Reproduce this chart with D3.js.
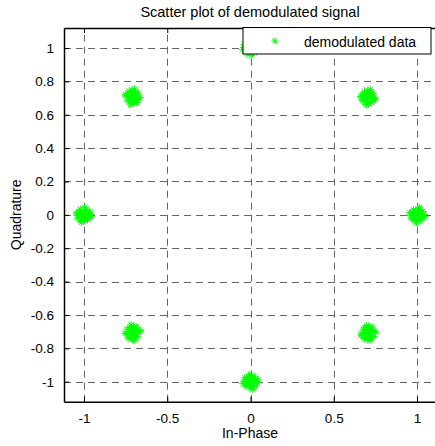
<!DOCTYPE html>
<html>
<head>
<meta charset="utf-8">
<script src="https://cdn.jsdelivr.net/npm/d3@7"></script>
<style>
  body { margin: 0; background: #fff; }
  text { font-family: "Liberation Sans", Arial, sans-serif; fill: #000; }
</style>
</head>
<body>
<main></main>
<script>
// データ (8-PSK 復調信号, 各クラスタの点を画像から読み取り)
const inPhase = [
  // (1, 0)
  1.000,1.013,0.985,1.026,0.978,1.008,0.994,1.031,0.970,1.018,0.988,1.041,0.961,1.004,0.979,1.022,1.035,0.966,1.010,0.992,1.046,0.956,0.997,1.014,
  // (0.707, 0.707)
  0.711,0.700,0.718,0.713,0.694,0.729,0.680,0.689,0.725,0.738,0.673,0.710,0.705,0.746,0.736,0.674,0.728,0.684,0.694,0.713,0.697,0.719,0.662,0.751,
  // (0, 1)
  0.000,-0.013,0.015,-0.026,0.022,-0.008,0.006,-0.031,0.030,-0.018,0.012,-0.041,0.039,-0.004,0.021,-0.022,-0.035,0.034,-0.010,0.008,-0.046,0.044,0.003,-0.014,
  // (-0.707, 0.707)
  -0.711,-0.700,-0.718,-0.713,-0.694,-0.729,-0.680,-0.689,-0.725,-0.738,-0.673,-0.710,-0.705,-0.746,-0.736,-0.674,-0.728,-0.684,-0.694,-0.713,-0.697,-0.719,-0.662,-0.751,
  // (-1, 0)
  -1.000,-1.013,-0.985,-1.026,-0.978,-1.008,-0.994,-1.031,-0.970,-1.018,-0.988,-1.041,-0.961,-1.004,-0.979,-1.022,-1.035,-0.966,-1.010,-0.992,-1.046,-0.956,-0.997,-1.014,
  // (-0.707, -0.707)
  -0.703,-0.714,-0.696,-0.701,-0.720,-0.685,-0.734,-0.725,-0.689,-0.676,-0.741,-0.704,-0.709,-0.668,-0.678,-0.740,-0.686,-0.730,-0.720,-0.701,-0.717,-0.695,-0.752,-0.663,
  // (0, -1)
  0.000,0.013,-0.015,0.026,-0.022,0.008,-0.006,0.031,-0.030,0.018,-0.012,0.041,-0.039,0.004,-0.021,0.022,0.035,-0.034,0.010,-0.008,0.046,-0.044,-0.003,0.014,
  // (0.707, -0.707)
  0.703,0.714,0.696,0.701,0.720,0.685,0.734,0.725,0.689,0.676,0.741,0.704,0.709,0.668,0.678,0.740,0.686,0.730,0.720,0.701,0.717,0.695,0.752,0.663
];
const quadrature = [
  0.004,-0.007,0.011,0.006,-0.013,0.022,-0.027,-0.018,0.018,0.031,-0.034,0.003,-0.002,0.039,0.029,-0.033,0.021,-0.023,-0.013,0.006,-0.010,0.012,-0.045,0.044,
  0.707,0.694,0.722,0.681,0.729,0.699,0.713,0.676,0.737,0.689,0.719,0.666,0.746,0.703,0.728,0.685,0.672,0.741,0.697,0.715,0.661,0.751,0.710,0.693,
  1.004,0.993,1.011,1.006,0.987,1.022,0.973,0.982,1.018,1.031,0.966,1.003,0.998,1.039,1.029,0.967,1.021,0.977,0.987,1.006,0.990,1.012,0.955,1.044,
  0.707,0.720,0.692,0.733,0.685,0.715,0.701,0.738,0.677,0.725,0.695,0.748,0.668,0.711,0.686,0.729,0.742,0.673,0.717,0.699,0.753,0.663,0.704,0.721,
  -0.004,0.007,-0.011,-0.006,0.013,-0.022,0.027,0.018,-0.018,-0.031,0.034,-0.003,0.002,-0.039,-0.029,0.033,-0.021,0.023,0.013,-0.006,0.010,-0.012,0.045,-0.044,
  -0.707,-0.694,-0.722,-0.681,-0.729,-0.699,-0.713,-0.676,-0.737,-0.689,-0.719,-0.666,-0.746,-0.703,-0.728,-0.685,-0.672,-0.741,-0.697,-0.715,-0.661,-0.751,-0.710,-0.693,
  -1.004,-0.993,-1.011,-1.006,-0.987,-1.022,-0.973,-0.982,-1.018,-1.031,-0.966,-1.003,-0.998,-1.039,-1.029,-0.967,-1.021,-0.977,-0.987,-1.006,-0.990,-1.012,-0.955,-1.044,
  -0.707,-0.720,-0.692,-0.733,-0.685,-0.715,-0.701,-0.738,-0.677,-0.725,-0.695,-0.748,-0.668,-0.711,-0.686,-0.729,-0.742,-0.673,-0.717,-0.699,-0.753,-0.663,-0.704,-0.721
];
const xTicks = [-1, -0.5, 0, 0.5, 1];
const yTicks = [-1, -0.8, -0.6, -0.4, -0.2, 0, 0.2, 0.4, 0.6, 0.8, 1];
const legendLabel = "demodulated data";

const width = 435, height = 446;
const mLeft = 64, mRight = 437, mTop = 28, mBottom = 401.7;

const svg = d3.select("main").append("svg")
    .attr("width", width)
    .attr("height", height);

const x = d3.scaleLinear().domain([-1.12, 1.12]).range([mLeft, mRight]);
const y = d3.scaleLinear().domain([-1.12, 1.12]).range([mBottom, mTop]);

const fmt = v => String(Math.round(v * 10) / 10);  // ハイフンのマイナス

// グリッド
const grid = svg.append("g")
    .attr("stroke", "#666")
    .attr("stroke-width", 1)
    .attr("stroke-dasharray", "7,5");
grid.selectAll(".gx").data(xTicks).enter().append("line")
    .attr("x1", d => Math.round(x(d)) + 0.5).attr("x2", d => Math.round(x(d)) + 0.5)
    .attr("y1", mBottom).attr("y2", mTop);
grid.selectAll(".gy").data(yTicks).enter().append("line")
    .attr("y1", d => Math.round(y(d)) + 0.5).attr("y2", d => Math.round(y(d)) + 0.5)
    .attr("x1", mLeft).attr("x2", mRight);

// アスタリスクマーカー
const star = r => `M${-r},0H${r}M0,${-r}V${r}M${-r*0.7},${-r*0.7}L${r*0.7},${r*0.7}M${-r*0.7},${r*0.7}L${r*0.7},${-r*0.7}`;

const points = inPhase.map((v, i) => ({ i: v, q: quadrature[i] }));

svg.append("g")
    .attr("fill", "none")
    .attr("stroke", "#00ff00")
    .attr("stroke-width", 1)
    .selectAll("path")
    .data(points)
    .enter().append("path")
    .attr("transform", d => `translate(${x(d.i)},${y(d.q)})`)
    .attr("d", star(3.8));

// 軸
const xAxisB = d3.axisBottom(x).tickValues(xTicks).tickSizeInner(-5).tickSizeOuter(0).tickFormat(fmt).tickPadding(12);
const xAxisT = d3.axisTop(x).tickValues(xTicks).tickSizeInner(-5).tickSizeOuter(0).tickFormat("");
const yAxisL = d3.axisLeft(y).tickValues(yTicks).tickSizeInner(-5).tickSizeOuter(0).tickFormat(fmt).tickPadding(10);

const gxb = svg.append("g").attr("transform", `translate(0,${mBottom})`).call(xAxisB);
const gxt = svg.append("g").attr("transform", `translate(0,${mTop})`).call(xAxisT);
const gyl = svg.append("g").attr("transform", `translate(${mLeft},0)`).call(yAxisL);
[gxb, gxt, gyl].forEach(g => {
    g.select(".domain").attr("stroke", "#000").attr("stroke-width", 1.5);
    g.selectAll(".tick line").attr("stroke", "#000");
    g.selectAll("text").attr("font-size", 13.5).attr("font-family", null);
});

// タイトルとラベル
svg.append("text")
    .attr("x", 250).attr("y", 17)
    .attr("text-anchor", "middle")
    .attr("font-size", 14.5)
    .text("Scatter plot of demodulated signal");

svg.append("text")
    .attr("x", 250).attr("y", 438)
    .attr("text-anchor", "middle")
    .attr("font-size", 14)
    .text("In-Phase");

svg.append("text")
    .attr("transform", `translate(21,${(mTop + mBottom) / 2}) rotate(-90)`)
    .attr("text-anchor", "middle")
    .attr("font-size", 14)
    .text("Quadrature");

// 凡例
const legend = svg.append("g").attr("transform", "translate(243,27.5)");
legend.append("rect")
    .attr("width", 188).attr("height", 26.5)
    .attr("fill", "#fff").attr("stroke", "#000").attr("stroke-width", 1);
legend.append("path")
    .attr("transform", "translate(32,13.5)")
    .attr("d", star(3.5))
    .attr("fill", "none").attr("stroke", "#00ff00").attr("stroke-width", 1);
legend.append("text")
    .attr("x", 61).attr("y", 19)
    .attr("font-size", 14)
    .text(legendLabel);
</script>
</body>
</html>
